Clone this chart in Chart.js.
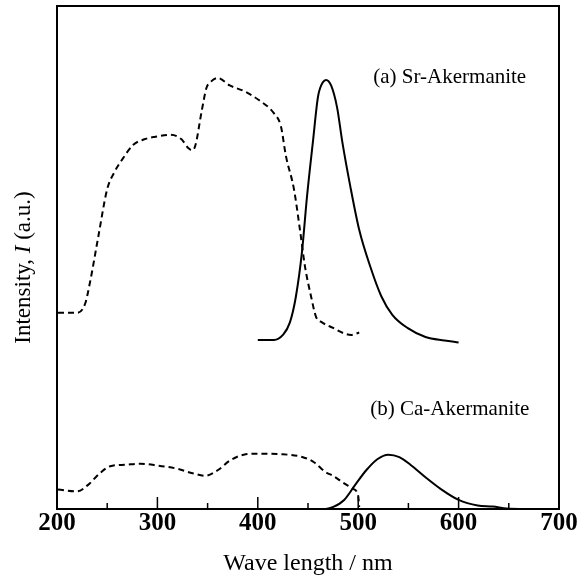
<!DOCTYPE html>
<html>
<head>
<meta charset="utf-8">
<script src="https://cdn.jsdelivr.net/npm/chart.js@4.4.1/dist/chart.umd.min.js"></script>
<style>
  html, body { margin: 0; padding: 0; background: #fff; }
  #wrap { width: 579px; height: 580px; position: relative; }
</style>
</head>
<body>
<div id="wrap"><canvas id="c"></canvas></div>
<script>
// (a) Sr-Akermanite excitation (dashed)
const srExcWl = [201, 220, 228, 233, 241, 250, 257, 265, 276, 287, 298, 313, 324, 331, 335, 338, 344, 349, 353, 360, 372, 386, 401, 416, 423, 428, 436, 442, 447, 453, 458, 464, 475, 486, 493, 501];
const srExcI  = [39.0, 39.0, 40.8, 45.2, 54.0, 63.6, 66.9, 69.5, 72.4, 73.5, 74.0, 74.4, 73.5, 71.7, 71.3, 72.4, 79.0, 83.8, 84.9, 85.7, 84.2, 83.1, 81.3, 78.7, 76.1, 70.2, 63.6, 55.5, 48.2, 42.3, 38.2, 37.1, 36.0, 34.9, 34.6, 35.1];
// (a) Sr-Akermanite emission (solid)
const srEmWl = [400, 416, 425, 432, 438, 444, 449, 455, 460, 465, 468, 473, 479, 484, 492, 501, 512, 523, 534, 549, 567, 586, 600];
const srEmI  = [33.6, 33.6, 34.6, 37.1, 42.3, 51.1, 62.1, 73.2, 82.0, 84.9, 85.3, 84.2, 79.8, 73.2, 64.3, 55.5, 48.2, 42.3, 38.6, 36.0, 34.2, 33.5, 33.1];
// (b) Ca-Akermanite excitation (dashed)
const caExcWl = [201, 220, 231, 242, 253, 268, 283, 301, 320, 335, 348, 360, 372, 386, 401, 423, 445, 456, 467, 475, 486, 495, 500, 501];
const caExcI  = [3.9, 3.5, 4.8, 7.0, 8.5, 8.8, 9.0, 8.6, 8.0, 7.1, 6.6, 7.7, 9.6, 10.8, 11.0, 10.9, 10.3, 9.3, 7.4, 6.6, 5.1, 4.0, 2.6, 0.4];
// (b) Ca-Akermanite emission (solid)
const caEmWl = [468, 475, 486, 497, 508, 519, 530, 541, 552, 567, 582, 600, 619, 634, 648, 667];
const caEmI  = [0, 0.4, 1.8, 4.8, 7.7, 9.9, 10.8, 10.3, 8.8, 6.3, 4.0, 1.8, 0.7, 0.5, 0.1, 0];

const xTicks = [200, 300, 400, 500, 600, 700];
const sampleNames = ['(a) Sr-Akermanite', '(b) Ca-Akermanite'];

const pts = (xs, ys) => xs.map((x, i) => ({ x: x, y: ys[i] }));
const serif = "'Liberation Serif', 'DejaVu Serif', serif";

function lineSet(xs, ys, dashed) {
    return {
        data: pts(xs, ys),
        borderColor: '#000',
        borderWidth: 2,
        borderDash: dashed ? [6, 4] : [],
        pointRadius: 0,
        tension: 0.4,
        cubicInterpolationMode: 'monotone',
        fill: false
    };
}

// frame, inward ticks, labels and rotated y title
const decor = {
    id: 'decor',
    afterDraw(chart) {
        const { ctx, chartArea: a, scales: { x, y } } = chart;
        ctx.save();
        ctx.strokeStyle = '#000';
        ctx.lineWidth = 2;
        ctx.strokeRect(a.left, a.top, a.right - a.left, a.bottom - a.top);

        ctx.lineWidth = 1.5;
        for (let v = x.min; v <= x.max; v += 50) {
            const px = x.getPixelForValue(v);
            const len = v % 100 === 0 ? 12 : 6;
            ctx.beginPath();
            ctx.moveTo(px, a.bottom);
            ctx.lineTo(px, a.bottom - len);
            ctx.stroke();
        }

        ctx.fillStyle = '#000';
        ctx.font = '21px ' + serif;
        ctx.textBaseline = 'alphabetic';
        ctx.fillText(sampleNames[0], x.getPixelForValue(515), y.getPixelForValue(84.6));
        ctx.fillText(sampleNames[1], x.getPixelForValue(512), y.getPixelForValue(18.6));

        // y title: Intensity, I (a.u.)
        ctx.translate(24, (a.top + a.bottom) / 2 + 10);
        ctx.rotate(-Math.PI / 2);
        ctx.textAlign = 'left';
        ctx.textBaseline = 'middle';
        const parts = [['Intensity, ', '23px '], ['I', 'italic 23px '], [' (a.u.)', '23px ']];
        let w = 0;
        parts.forEach(p => { ctx.font = p[1] + serif; w += ctx.measureText(p[0]).width; });
        let cx = -w / 2;
        parts.forEach(p => {
            ctx.font = p[1] + serif;
            ctx.fillText(p[0], cx, 0);
            cx += ctx.measureText(p[0]).width;
        });
        ctx.restore();
    }
};

new Chart(document.getElementById('c'), {
    type: 'line',
    data: {
        datasets: [
            lineSet(srExcWl, srExcI, true),
            lineSet(srEmWl, srEmI, false),
            lineSet(caExcWl, caExcI, true),
            lineSet(caEmWl, caEmI, false)
        ]
    },
    options: {
        responsive: true,
        maintainAspectRatio: false,
        animation: false,
        layout: { padding: { left: 57, right: 20, top: 6, bottom: 0 } },
        plugins: { legend: { display: false }, tooltip: { enabled: false } },
        scales: {
            x: {
                type: 'linear',
                min: 200,
                max: 700,
                afterBuildTicks: s => { s.ticks = xTicks.map(v => ({ value: v })); },
                afterFit: s => { s.height = 71; },
                grid: { display: false, drawTicks: false },
                border: { display: false },
                ticks: { color: '#000', padding: 0, maxRotation: 0, font: { family: serif, size: 25, weight: 'bold' } },
                title: { display: true, text: 'Wave length / nm', color: '#000', padding: { top: 2, bottom: 2 }, font: { family: serif, size: 24 } }
            },
            y: {
                display: false,
                min: 0,
                max: 100
            }
        }
    },
    plugins: [decor]
});
</script>
</body>
</html>
